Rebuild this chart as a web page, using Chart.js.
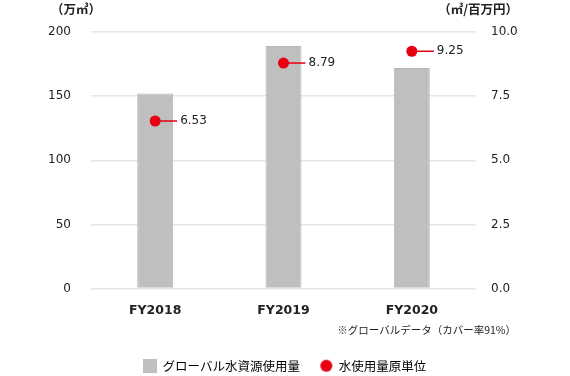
<!DOCTYPE html>
<html>
<head>
<meta charset="utf-8">
<script src="https://cdn.jsdelivr.net/npm/chart.js@4.4.0/dist/chart.umd.min.js"></script>
<style>
  html, body { margin: 0; padding: 0; background: #fff; }
  #wrap { width: 570px; height: 376px; position: relative; }
</style>
</head>
<body>
<div id="wrap"><canvas id="waterChart"></canvas></div>
<script>
var years = ["FY2018", "FY2019", "FY2020"];
var waterUse = [152, 189, 172];          // 万㎥
var waterIntensity = [6.53, 8.79, 9.25]; // ㎥/百万円
var leftTicks = [0, 50, 100, 150, 200];
var rightTicks = [0, 2.5, 5, 7.5, 10];

var RED = '#e60012';
var GRAY = '#bfbfbf';
var NUM_FONT = '"DejaVu Sans", "Noto Sans CJK JP", sans-serif';
var JP_FONT = '"Noto Sans CJK JP", sans-serif';

function legendIcon(kind) {
  var c = document.createElement('canvas');
  c.width = 14; c.height = 14;
  var g = c.getContext('2d');
  if (kind == 'rect') {
    g.fillStyle = GRAY;
    g.fillRect(0, 0, 14, 14);
  } else {
    g.fillStyle = RED;
    g.beginPath();
    g.arc(7, 7, 6, 0, Math.PI * 2);
    g.fill();
  }
  return c;
}

// leader lines + value labels, axis titles and the note
var extras = {
  id: 'extras',
  afterDatasetsDraw: function(chart) {
    var ctx = chart.ctx;
    var meta = chart.getDatasetMeta(1);
    ctx.save();
    meta.data.forEach(function(pt, i) {
      ctx.strokeStyle = RED;
      ctx.lineWidth = 1.5;
      ctx.beginPath();
      ctx.moveTo(pt.x, pt.y);
      ctx.lineTo(pt.x + 22, pt.y);
      ctx.stroke();
      ctx.fillStyle = '#222';
      ctx.font = '12px ' + NUM_FONT;
      ctx.textAlign = 'left';
      ctx.textBaseline = 'middle';
      ctx.fillText(waterIntensity[i].toFixed(2), pt.x + 25, pt.y);
    });
    ctx.restore();
  },
  afterDraw: function(chart) {
    var ctx = chart.ctx;
    ctx.save();
    ctx.fillStyle = '#222';
    ctx.textBaseline = 'middle';
    ctx.font = 'bold 12.5px ' + JP_FONT;
    ctx.textAlign = 'center';
    ctx.fillText('（万㎥）', 76, 9);
    ctx.textAlign = 'right';
    ctx.fillText('（㎥/百万円）', 518, 9);
    ctx.font = '10.5px ' + JP_FONT;
    ctx.fillText('※グローバルデータ（カバー率91%）', 516, 330);
    ctx.restore();
  }
};

new Chart(document.getElementById('waterChart'), {
  data: {
    labels: years,
    datasets: [{
      type: 'bar',
      label: 'グローバル水資源使用量',
      data: waterUse,
      backgroundColor: GRAY,
      borderColor: '#b8b8b8',
      borderWidth: 1,
      barPercentage: 0.28,
      categoryPercentage: 1,
      yAxisID: 'y',
      order: 2
    }, {
      type: 'line',
      label: '水使用量原単位',
      data: waterIntensity,
      showLine: false,
      pointRadius: 5.5,
      pointBackgroundColor: RED,
      pointBorderColor: RED,
      pointBorderWidth: 0,
      yAxisID: 'y1',
      order: 1
    }]
  },
  options: {
    responsive: true,
    maintainAspectRatio: false,
    animation: false,
    layout: { padding: { top: 32, left: 0, right: 0, bottom: -6 } },
    plugins: {
      tooltip: { enabled: false },
      legend: {
        position: 'bottom',
        labels: {
          usePointStyle: true,
          boxWidth: 13,
          padding: 20,
          color: '#222',
          font: { family: JP_FONT, size: 12.5 },
          generateLabels: function(chart) {
            return [
              { text: 'グローバル水資源使用量', pointStyle: legendIcon('rect'), fillStyle: GRAY, strokeStyle: GRAY, lineWidth: 0, datasetIndex: 0 },
              { text: '水使用量原単位', pointStyle: legendIcon('dot'), fillStyle: RED, strokeStyle: RED, lineWidth: 0, datasetIndex: 1 }
            ];
          }
        }
      }
    },
    scales: {
      x: {
        grid: { display: false },
        border: { display: false },
        ticks: {
          color: '#222',
          padding: 7,
          font: { family: NUM_FONT, size: 12.5, weight: 'bold' }
        },
        afterFit: function(scale) { scale.height = 51; }
      },
      y: {
        position: 'left',
        min: 0,
        max: 200,
        afterBuildTicks: function(scale) {
          scale.ticks = leftTicks.map(function(v) { return { value: v }; });
        },
        grid: { color: '#e6e6e6', lineWidth: 1.5, drawTicks: false },
        border: { display: false },
        ticks: {
          color: '#222',
          padding: 20,
          font: { family: NUM_FONT, size: 12 }
        },
        afterFit: function(scale) { scale.width = 91; }
      },
      y1: {
        position: 'right',
        min: 0,
        max: 10,
        afterBuildTicks: function(scale) {
          scale.ticks = rightTicks.map(function(v) { return { value: v }; });
        },
        grid: { display: false, drawTicks: false },
        border: { display: false },
        ticks: {
          color: '#222',
          padding: 15,
          font: { family: NUM_FONT, size: 12 },
          callback: function(v) { return Number(v).toFixed(1); }
        },
        afterFit: function(scale) { scale.width = 94; }
      }
    }
  },
  plugins: [extras]
});
</script>
</body>
</html>
